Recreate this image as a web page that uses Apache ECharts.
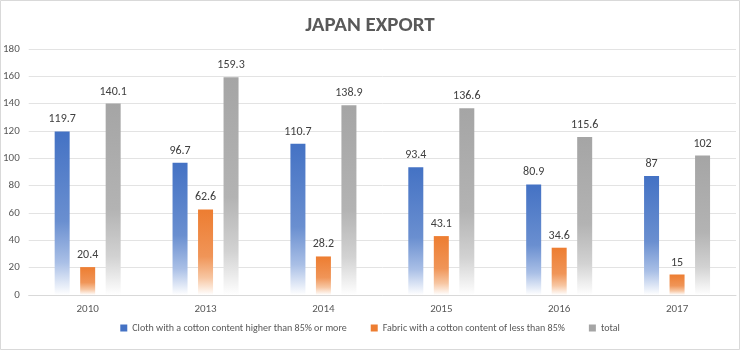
<!DOCTYPE html>
<html><head><meta charset="utf-8">
<script src="https://cdn.jsdelivr.net/npm/echarts@6/dist/echarts.min.js"></script>
<style>html,body{margin:0;padding:0;background:#fff}#c{width:740px;height:350px}</style>
</head><body><div id="c"></div>
<script>
const categories = ['2010','2013','2014','2015','2016','2017'];
const cloth = [119.7, 96.7, 110.7, 93.4, 80.9, 87];
const fabric = [20.4, 62.6, 28.2, 43.1, 34.6, 15];
const total = [140.1, 159.3, 138.9, 136.6, 115.6, 102];
const seriesNames = ['Cloth with a cotton content higher than 85% or more', 'Fabric with a cotton content of less than 85%', 'total'];
const yTicks = {min: 0, max: 180, interval: 20};

function grad(c, mid1, mid2) {
  return new echarts.graphic.LinearGradient(0, 0, 0, 1, [
    {offset: 0, color: c},
    {offset: 0.55, color: mid1},
    {offset: 0.8, color: mid2},
    {offset: 1, color: '#ffffff'}
  ]);
}
const font = 'Carlito, Calibri, "Liberation Sans Narrow", Lato, sans-serif';
const lbl = {show: true, position: 'top', distance: 6, color: '#404040', fontSize: 12, fontFamily: font};
function mk(name, data, c, m1, m2) {
  return {name, type: 'bar', data, barWidth: 15, barGap: '70%',
    itemStyle: {color: grad(c, m1, m2)}, label: lbl, emphasis: {disabled: true}};
}
const chart = echarts.init(document.getElementById('c'), null, {renderer: 'canvas'});
chart.setOption({
  backgroundColor: '#fff',
  animation: false,
  title: {text: 'JAPAN EXPORT', left: 'center', top: 10,
    textStyle: {fontSize: 21, fontWeight: 'bold', color: '#595959', fontFamily: font}},
  grid: {left: 26, right: 4, top: 49, bottom: 55},
  legend: {bottom: 12, left: 'center', itemWidth: 7, itemHeight: 7, itemGap: 24, icon: 'rect',
    textStyle: {fontSize: 10, color: '#595959', fontFamily: font},
    data: seriesNames.map((n, i) => ({name: n, itemStyle: {color: ['#4472C4','#ED7D31','#A5A5A5'][i]}}))},
  xAxis: {type: 'category', data: categories,
    axisLine: {lineStyle: {color: '#d9d9d9'}}, axisTick: {show: false},
    axisLabel: {color: '#595959', fontSize: 11, fontFamily: font, margin: 9}},
  yAxis: {type: 'value', min: yTicks.min, max: yTicks.max, interval: yTicks.interval,
    axisLine: {show: false}, axisTick: {show: false},
    splitLine: {lineStyle: {color: '#e3e3e3'}},
    axisLabel: {color: '#595959', fontSize: 11, fontFamily: font, margin: 9}},
  graphic: [{type: 'rect', shape: {x: 0.5, y: 0.5, width: 739, height: 349}, silent: true,
    style: {fill: 'none', stroke: '#d9d9d9', lineWidth: 1}}],
  series: [
    mk(seriesNames[0], cloth, '#4472C4', '#6a8fd0', '#a9bfe6'),
    mk(seriesNames[1], fabric, '#ED7D31', '#f09558', '#f7c6a2'),
    mk(seriesNames[2], total, '#A5A5A5', '#b3b3b3', '#d2d2d2')
  ]
});
</script></body></html>
